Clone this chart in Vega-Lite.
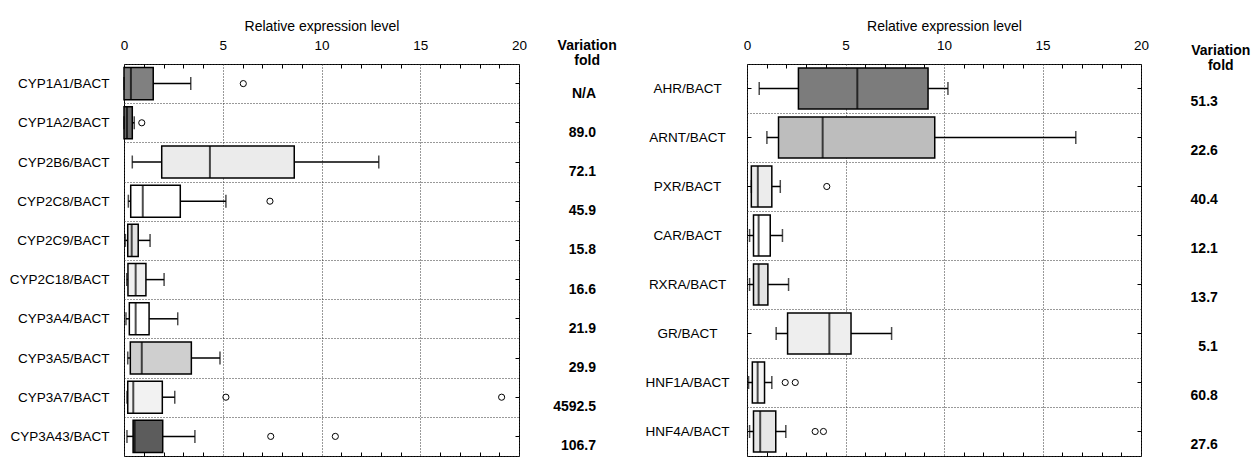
{
  "$schema": "https://vega.github.io/schema/vega-lite/v6.json",
  "background": "white",
  "padding": {"left": 8, "top": 18, "right": 0, "bottom": 0},
  "config": {
    "font": "Liberation Sans",
    "view": {"stroke": "black", "strokeWidth": 1},
    "axis": {"labelColor": "black", "titleColor": "black", "titleFontWeight": "normal"}
  },
  "datasets": {
    "cyp": [
      {"gene": "CYP1A1/BACT", "lo": 0.0, "q1": 0.0, "med": 0.35, "q3": 1.48, "hi": 3.38, "fold": "N/A"},
      {"gene": "CYP1A2/BACT", "lo": 0.0, "q1": 0.0, "med": 0.15, "q3": 0.42, "hi": 0.52, "fold": "89.0"},
      {"gene": "CYP2B6/BACT", "lo": 0.42, "q1": 1.91, "med": 4.35, "q3": 8.62, "hi": 12.9, "fold": "72.1"},
      {"gene": "CYP2C8/BACT", "lo": 0.22, "q1": 0.34, "med": 0.95, "q3": 2.85, "hi": 5.16, "fold": "45.9"},
      {"gene": "CYP2C9/BACT", "lo": 0.07, "q1": 0.19, "med": 0.39, "q3": 0.72, "hi": 1.32, "fold": "15.8"},
      {"gene": "CYP2C18/BACT", "lo": 0.14, "q1": 0.2, "med": 0.59, "q3": 1.11, "hi": 2.03, "fold": "16.6"},
      {"gene": "CYP3A4/BACT", "lo": 0.1, "q1": 0.27, "med": 0.59, "q3": 1.27, "hi": 2.72, "fold": "21.9"},
      {"gene": "CYP3A5/BACT", "lo": 0.19, "q1": 0.32, "med": 0.9, "q3": 3.41, "hi": 4.86, "fold": "29.9"},
      {"gene": "CYP3A7/BACT", "lo": 0.15, "q1": 0.19, "med": 0.47, "q3": 1.94, "hi": 2.57, "fold": "4592.5"},
      {"gene": "CYP3A43/BACT", "lo": 0.15, "q1": 0.46, "med": 0.54, "q3": 1.96, "hi": 3.59, "fold": "106.7"}
    ],
    "cypOut": [
      {"gene": "CYP1A1/BACT", "value": 6.04},
      {"gene": "CYP1A2/BACT", "value": 0.9},
      {"gene": "CYP2C8/BACT", "value": 7.39},
      {"gene": "CYP3A7/BACT", "value": 5.16},
      {"gene": "CYP3A7/BACT", "value": 19.12},
      {"gene": "CYP3A43/BACT", "value": 7.43},
      {"gene": "CYP3A43/BACT", "value": 10.7}
    ],
    "nr": [
      {"gene": "AHR/BACT", "lo": 0.62, "q1": 2.61, "med": 5.6, "q3": 9.19, "hi": 10.2, "fold": "51.3"},
      {"gene": "ARNT/BACT", "lo": 1.01, "q1": 1.6, "med": 3.84, "q3": 9.53, "hi": 16.69, "fold": "22.6"},
      {"gene": "PXR/BACT", "lo": 0.22, "q1": 0.22, "med": 0.55, "q3": 1.26, "hi": 1.69, "fold": "40.4"},
      {"gene": "CAR/BACT", "lo": 0.13, "q1": 0.33, "med": 0.59, "q3": 1.18, "hi": 1.8, "fold": "12.1"},
      {"gene": "RXRA/BACT", "lo": 0.13, "q1": 0.33, "med": 0.59, "q3": 1.06, "hi": 2.11, "fold": "13.7"},
      {"gene": "GR/BACT", "lo": 1.48, "q1": 2.06, "med": 4.18, "q3": 5.28, "hi": 7.34, "fold": "5.1"},
      {"gene": "HNF1A/BACT", "lo": 0.08, "q1": 0.27, "med": 0.54, "q3": 0.89, "hi": 1.26, "fold": "60.8"},
      {"gene": "HNF4A/BACT", "lo": 0.13, "q1": 0.33, "med": 0.67, "q3": 1.46, "hi": 1.97, "fold": "27.6"}
    ],
    "nrOut": [
      {"gene": "PXR/BACT", "value": 4.05},
      {"gene": "HNF1A/BACT", "value": 1.94},
      {"gene": "HNF1A/BACT", "value": 2.45},
      {"gene": "HNF4A/BACT", "value": 3.46},
      {"gene": "HNF4A/BACT", "value": 3.88}
    ]
  },
  "resolve": {"scale": {"fill": "independent"}},
  "spacing": 26,
  "hconcat": [
    {
      "width": 395,
      "height": 392,
      "data": {"name": "cyp"},
      "resolve": {"axis": {"x": "independent", "y": "independent"}},
      "layer": [
        {
          "mark": {"type": "rule", "strokeWidth": 1.5, "color": "black"},
          "encoding": {
            "y": {"field": "gene", "type": "nominal", "scale": {"domain": ["CYP1A1/BACT","CYP1A2/BACT","CYP2B6/BACT","CYP2C8/BACT","CYP2C9/BACT","CYP2C18/BACT","CYP3A4/BACT","CYP3A5/BACT","CYP3A7/BACT","CYP3A43/BACT"], "paddingInner": 0, "paddingOuter": 0},
              "axis": {"orient": "left", "title": null, "grid": true, "tickBand": "extent", "gridDash": [1, 2], "gridColor": "#333", "ticks": false, "domain": false, "labelPadding": 15, "labelFontSize": 13.5}},
            "x": {"field": "lo", "type": "quantitative", "scale": {"domain": [0, 20], "nice": false, "zero": false},
              "axis": {"orient": "top", "title": "Relative expression level", "titleFontSize": 14, "titlePadding": 5,
                "values": [0, 5, 10, 15, 20], "labelOverlap": false, "labelFlush": false,
                "labelFontSize": 13.5, "labelPadding": 12, "ticks": false, "domain": false,
                "grid": true, "gridDash": [1, 2], "gridColor": "#333"}},
            "x2": {"field": "q1"}
          }
        },
        {
          "mark": {"type": "rule", "strokeWidth": 1.5, "color": "black"},
          "encoding": {
            "y": {"field": "gene", "type": "nominal", "scale": {"domain": ["CYP1A1/BACT","CYP1A2/BACT","CYP2B6/BACT","CYP2C8/BACT","CYP2C9/BACT","CYP2C18/BACT","CYP3A4/BACT","CYP3A5/BACT","CYP3A7/BACT","CYP3A43/BACT"], "paddingInner": 0, "paddingOuter": 0}, "axis": null},
            "x": {"field": "q3", "type": "quantitative", "scale": {"domain": [0, 20], "nice": false, "zero": false}, "axis": null},
            "x2": {"field": "hi"}
          }
        },
        {
          "mark": {"type": "bar", "height": {"band": 0.82}, "stroke": "black", "strokeWidth": 1.5},
          "encoding": {
            "y": {"field": "gene", "type": "nominal", "scale": {"domain": ["CYP1A1/BACT","CYP1A2/BACT","CYP2B6/BACT","CYP2C8/BACT","CYP2C9/BACT","CYP2C18/BACT","CYP3A4/BACT","CYP3A5/BACT","CYP3A7/BACT","CYP3A43/BACT"], "paddingInner": 0, "paddingOuter": 0}, "axis": null},
            "x": {"field": "q1", "type": "quantitative", "scale": {"domain": [0, 20], "nice": false, "zero": false}, "axis": null},
            "x2": {"field": "q3"},
            "fill": {"field": "gene", "type": "nominal", "legend": null,
              "scale": {"domain": ["CYP1A1/BACT","CYP1A2/BACT","CYP2B6/BACT","CYP2C8/BACT","CYP2C9/BACT","CYP2C18/BACT","CYP3A4/BACT","CYP3A5/BACT","CYP3A7/BACT","CYP3A43/BACT"],
                "range": ["#808080","#6a6a6a","#ebebeb","#ffffff","#e2e2e2","#efefef","#ffffff","#cfcfcf","#f2f2f2","#5c5c5c"]}}
          }
        },
        {
          "mark": {"type": "tick", "orient": "vertical", "size": 32, "thickness": 2, "color": "black"},
          "encoding": {
            "y": {"field": "gene", "type": "nominal", "scale": {"domain": ["CYP1A1/BACT","CYP1A2/BACT","CYP2B6/BACT","CYP2C8/BACT","CYP2C9/BACT","CYP2C18/BACT","CYP3A4/BACT","CYP3A5/BACT","CYP3A7/BACT","CYP3A43/BACT"], "paddingInner": 0, "paddingOuter": 0}, "axis": null},
            "x": {"field": "med", "type": "quantitative", "scale": {"domain": [0, 20], "nice": false, "zero": false},
              "axis": {"orient": "top", "title": null, "labels": false, "grid": false, "domain": false, "offset": -4, "tickSize": 4, "tickColor": "black",
                "values": [1,2,3,4,6,7,8,9,11,12,13,14,16,17,18,19]}}
          }
        },
        {
          "mark": {"type": "tick", "orient": "vertical", "size": 13, "thickness": 1.5, "color": "black"},
          "encoding": {
            "y": {"field": "gene", "type": "nominal", "scale": {"domain": ["CYP1A1/BACT","CYP1A2/BACT","CYP2B6/BACT","CYP2C8/BACT","CYP2C9/BACT","CYP2C18/BACT","CYP3A4/BACT","CYP3A5/BACT","CYP3A7/BACT","CYP3A43/BACT"], "paddingInner": 0, "paddingOuter": 0}, "axis": null},
            "x": {"field": "lo", "type": "quantitative", "scale": {"domain": [0, 20], "nice": false, "zero": false}, "axis": null}
          }
        },
        {
          "mark": {"type": "tick", "orient": "vertical", "size": 13, "thickness": 1.5, "color": "black"},
          "encoding": {
            "y": {"field": "gene", "type": "nominal", "scale": {"domain": ["CYP1A1/BACT","CYP1A2/BACT","CYP2B6/BACT","CYP2C8/BACT","CYP2C9/BACT","CYP2C18/BACT","CYP3A4/BACT","CYP3A5/BACT","CYP3A7/BACT","CYP3A43/BACT"], "paddingInner": 0, "paddingOuter": 0}, "axis": null},
            "x": {"field": "hi", "type": "quantitative", "scale": {"domain": [0, 20], "nice": false, "zero": false}, "axis": null}
          }
        },
        {
          "data": {"name": "cypOut"},
          "mark": {"type": "point", "shape": "circle", "size": 38, "filled": false, "stroke": "black", "strokeWidth": 1, "opacity": 1},
          "encoding": {
            "y": {"field": "gene", "type": "nominal", "scale": {"domain": ["CYP1A1/BACT","CYP1A2/BACT","CYP2B6/BACT","CYP2C8/BACT","CYP2C9/BACT","CYP2C18/BACT","CYP3A4/BACT","CYP3A5/BACT","CYP3A7/BACT","CYP3A43/BACT"], "paddingInner": 0, "paddingOuter": 0},
              "axis": {"orient": "right", "title": null, "labels": false, "grid": false, "domain": false, "offset": -4, "tickSize": 4, "tickColor": "black"}},
            "x": {"field": "value", "type": "quantitative", "scale": {"domain": [0, 20], "nice": false, "zero": false},
              "axis": {"orient": "bottom", "title": null, "labels": false, "grid": false, "domain": false, "offset": -4, "tickSize": 4, "tickColor": "black",
                "values": [1,2,3,4,6,7,8,9,11,12,13,14,16,17,18,19]}}
          }
        },
        {
          "mark": {"type": "text", "align": "right", "baseline": "middle", "fontWeight": "bold", "fontSize": 14, "dy": 10, "color": "black"},
          "encoding": {
            "y": {"field": "gene", "type": "nominal", "scale": {"domain": ["CYP1A1/BACT","CYP1A2/BACT","CYP2B6/BACT","CYP2C8/BACT","CYP2C9/BACT","CYP2C18/BACT","CYP3A4/BACT","CYP3A5/BACT","CYP3A7/BACT","CYP3A43/BACT"], "paddingInner": 0, "paddingOuter": 0}, "axis": null},
            "x": {"datum": 23.9, "type": "quantitative", "scale": {"domain": [0, 20], "nice": false, "zero": false}, "axis": null},
            "text": {"field": "fold"}
          }
        },
        {
          "transform": [{"filter": "datum.gene === 'CYP1A1/BACT'"}],
          "mark": {"type": "text", "text": "Variation\nfold", "lineBreak": "\n", "lineHeight": 15, "align": "center", "baseline": "middle", "fontWeight": "bold", "fontSize": 14, "dy": -38, "color": "black"},
          "encoding": {
            "y": {"field": "gene", "type": "nominal", "scale": {"domain": ["CYP1A1/BACT","CYP1A2/BACT","CYP2B6/BACT","CYP2C8/BACT","CYP2C9/BACT","CYP2C18/BACT","CYP3A4/BACT","CYP3A5/BACT","CYP3A7/BACT","CYP3A43/BACT"], "paddingInner": 0, "paddingOuter": 0}, "axis": null},
            "x": {"datum": 23.45, "type": "quantitative", "scale": {"domain": [0, 20], "nice": false, "zero": false}, "axis": null}
          }
        }
      ]
    },
    {
      "width": 394,
      "height": 392,
      "data": {"name": "nr"},
      "resolve": {"axis": {"x": "independent", "y": "independent"}},
      "layer": [
        {
          "mark": {"type": "rule", "strokeWidth": 1.5, "color": "black"},
          "encoding": {
            "y": {"field": "gene", "type": "nominal", "scale": {"domain": ["AHR/BACT","ARNT/BACT","PXR/BACT","CAR/BACT","RXRA/BACT","GR/BACT","HNF1A/BACT","HNF4A/BACT"], "paddingInner": 0, "paddingOuter": 0},
              "axis": {"orient": "left", "title": null, "grid": true, "tickBand": "extent", "gridDash": [1, 2], "gridColor": "#333", "ticks": false, "domain": false, "labelPadding": 60, "labelAlign": "center", "labelFontSize": 13.5}},
            "x": {"field": "lo", "type": "quantitative", "scale": {"domain": [0, 20], "nice": false, "zero": false},
              "axis": {"orient": "top", "title": "Relative expression level", "titleFontSize": 14, "titlePadding": 5,
                "values": [0, 5, 10, 15, 20], "labelOverlap": false, "labelFlush": false,
                "labelFontSize": 13.5, "labelPadding": 12, "ticks": false, "domain": false,
                "grid": true, "gridDash": [1, 2], "gridColor": "#333"}},
            "x2": {"field": "q1"}
          }
        },
        {
          "mark": {"type": "rule", "strokeWidth": 1.5, "color": "black"},
          "encoding": {
            "y": {"field": "gene", "type": "nominal", "scale": {"domain": ["AHR/BACT","ARNT/BACT","PXR/BACT","CAR/BACT","RXRA/BACT","GR/BACT","HNF1A/BACT","HNF4A/BACT"], "paddingInner": 0, "paddingOuter": 0}, "axis": null},
            "x": {"field": "q3", "type": "quantitative", "scale": {"domain": [0, 20], "nice": false, "zero": false}, "axis": null},
            "x2": {"field": "hi"}
          }
        },
        {
          "mark": {"type": "bar", "height": {"band": 0.84}, "stroke": "black", "strokeWidth": 1.5},
          "encoding": {
            "y": {"field": "gene", "type": "nominal", "scale": {"domain": ["AHR/BACT","ARNT/BACT","PXR/BACT","CAR/BACT","RXRA/BACT","GR/BACT","HNF1A/BACT","HNF4A/BACT"], "paddingInner": 0, "paddingOuter": 0}, "axis": null},
            "x": {"field": "q1", "type": "quantitative", "scale": {"domain": [0, 20], "nice": false, "zero": false}, "axis": null},
            "x2": {"field": "q3"},
            "fill": {"field": "gene", "type": "nominal", "legend": null,
              "scale": {"domain": ["AHR/BACT","ARNT/BACT","PXR/BACT","CAR/BACT","RXRA/BACT","GR/BACT","HNF1A/BACT","HNF4A/BACT"],
                "range": ["#7c7c7c","#bdbdbd","#ececec","#ffffff","#e4e4e4","#eeeeee","#f4f4f4","#e6e6e6"]}}
          }
        },
        {
          "mark": {"type": "tick", "orient": "vertical", "size": 41, "thickness": 2, "color": "black"},
          "encoding": {
            "y": {"field": "gene", "type": "nominal", "scale": {"domain": ["AHR/BACT","ARNT/BACT","PXR/BACT","CAR/BACT","RXRA/BACT","GR/BACT","HNF1A/BACT","HNF4A/BACT"], "paddingInner": 0, "paddingOuter": 0},
              "axis": {"orient": "left", "title": null, "labels": false, "grid": false, "domain": false, "offset": -4, "tickSize": 4, "tickColor": "black"}},
            "x": {"field": "med", "type": "quantitative", "scale": {"domain": [0, 20], "nice": false, "zero": false},
              "axis": {"orient": "top", "title": null, "labels": false, "grid": false, "domain": false, "offset": -4, "tickSize": 4, "tickColor": "black",
                "values": [1,2,3,4,6,7,8,9,11,12,13,14,16,17,18,19]}}
          }
        },
        {
          "mark": {"type": "tick", "orient": "vertical", "size": 13, "thickness": 1.5, "color": "black"},
          "encoding": {
            "y": {"field": "gene", "type": "nominal", "scale": {"domain": ["AHR/BACT","ARNT/BACT","PXR/BACT","CAR/BACT","RXRA/BACT","GR/BACT","HNF1A/BACT","HNF4A/BACT"], "paddingInner": 0, "paddingOuter": 0}, "axis": null},
            "x": {"field": "lo", "type": "quantitative", "scale": {"domain": [0, 20], "nice": false, "zero": false}, "axis": null}
          }
        },
        {
          "mark": {"type": "tick", "orient": "vertical", "size": 13, "thickness": 1.5, "color": "black"},
          "encoding": {
            "y": {"field": "gene", "type": "nominal", "scale": {"domain": ["AHR/BACT","ARNT/BACT","PXR/BACT","CAR/BACT","RXRA/BACT","GR/BACT","HNF1A/BACT","HNF4A/BACT"], "paddingInner": 0, "paddingOuter": 0}, "axis": null},
            "x": {"field": "hi", "type": "quantitative", "scale": {"domain": [0, 20], "nice": false, "zero": false}, "axis": null}
          }
        },
        {
          "data": {"name": "nrOut"},
          "mark": {"type": "point", "shape": "circle", "size": 38, "filled": false, "stroke": "black", "strokeWidth": 1, "opacity": 1},
          "encoding": {
            "y": {"field": "gene", "type": "nominal", "scale": {"domain": ["AHR/BACT","ARNT/BACT","PXR/BACT","CAR/BACT","RXRA/BACT","GR/BACT","HNF1A/BACT","HNF4A/BACT"], "paddingInner": 0, "paddingOuter": 0},
              "axis": {"orient": "right", "title": null, "labels": false, "grid": false, "domain": false, "offset": -4, "tickSize": 4, "tickColor": "black"}},
            "x": {"field": "value", "type": "quantitative", "scale": {"domain": [0, 20], "nice": false, "zero": false},
              "axis": {"orient": "bottom", "title": null, "labels": false, "grid": false, "domain": false, "offset": -4, "tickSize": 4, "tickColor": "black",
                "values": [1,2,3,4,6,7,8,9,11,12,13,14,16,17,18,19]}}
          }
        },
        {
          "mark": {"type": "text", "align": "right", "baseline": "middle", "fontWeight": "bold", "fontSize": 14, "dy": 13, "color": "black"},
          "encoding": {
            "y": {"field": "gene", "type": "nominal", "scale": {"domain": ["AHR/BACT","ARNT/BACT","PXR/BACT","CAR/BACT","RXRA/BACT","GR/BACT","HNF1A/BACT","HNF4A/BACT"], "paddingInner": 0, "paddingOuter": 0}, "axis": null},
            "x": {"datum": 23.9, "type": "quantitative", "scale": {"domain": [0, 20], "nice": false, "zero": false}, "axis": null},
            "text": {"field": "fold"}
          }
        },
        {
          "transform": [{"filter": "datum.gene === 'AHR/BACT'"}],
          "mark": {"type": "text", "text": "Variation\nfold", "lineBreak": "\n", "lineHeight": 15, "align": "center", "baseline": "middle", "fontWeight": "bold", "fontSize": 14, "dy": -38, "color": "black"},
          "encoding": {
            "y": {"field": "gene", "type": "nominal", "scale": {"domain": ["AHR/BACT","ARNT/BACT","PXR/BACT","CAR/BACT","RXRA/BACT","GR/BACT","HNF1A/BACT","HNF4A/BACT"], "paddingInner": 0, "paddingOuter": 0}, "axis": null},
            "x": {"datum": 24.05, "type": "quantitative", "scale": {"domain": [0, 20], "nice": false, "zero": false}, "axis": null}
          }
        }
      ]
    }
  ]
}
